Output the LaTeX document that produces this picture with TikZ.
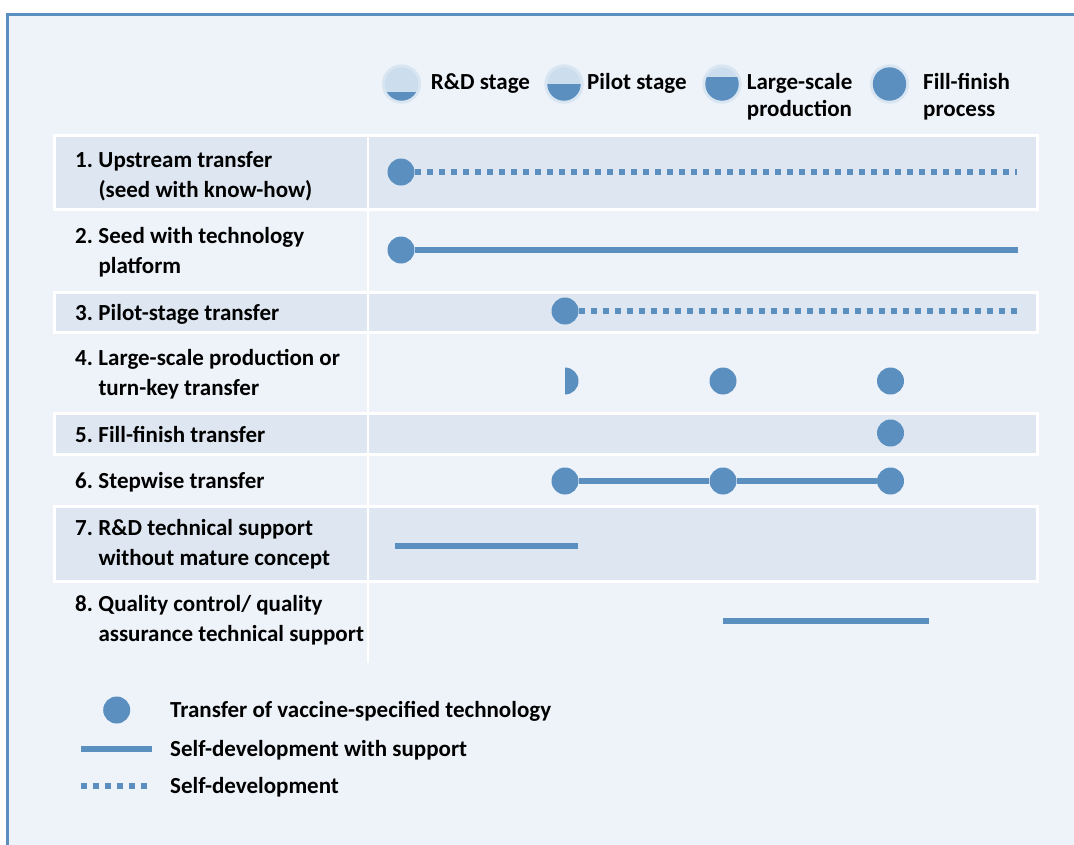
\documentclass[tikz,border=0pt]{standalone}
\usepackage{fontspec}
\setmainfont{Carlito}
\definecolor{tblue}{HTML}{5A8FC0}
\definecolor{pagebg}{HTML}{EEF3FA}
\definecolor{rowfill}{HTML}{DEE7F1}
\definecolor{ringc}{HTML}{D9E6F2}
\definecolor{innerc}{HTML}{CCDEEE}
\newcommand\rowtwo[3]{\vtop{\hbox{\makebox[23.3pt][l]{#1}#2}\hbox{\hspace{23.3pt}#3}}}
\newcommand\rowone[2]{\makebox[23.3pt][l]{#1}#2}
\newcommand\legtwo[2]{\vtop{\baselineskip=27pt\hbox{#1}\hbox{#2}}}
\newcommand\stageicon[2]{%
  \fill[ringc] (#1,84) circle (19.7);
  \fill[innerc] (#1,84) circle (16.7);
  \begin{scope}\clip (#1,84) circle (16.7);
    \fill[tblue] (#1-20,#2) rectangle (#1+20,110);
  \end{scope}}
\begin{document}
\begin{tikzpicture}[x=1pt,y=-1pt,
  lab/.style={anchor=base west, inner sep=0pt, font=\fontsize{23}{30}\selectfont\bfseries, text=black},
  dot/.style={circle, fill=tblue, minimum size=27pt, inner sep=0pt},
  support/.style={draw=tblue, line width=6pt},
  selfdev/.style={draw=tblue, line width=6pt, dash pattern=on 6pt off 6pt}]
\useasboundingbox (0,0) rectangle (1074,844);
\clip (0,0) rectangle (1074,844);
\fill[white] (0,0) rectangle (1074,844);
\fill[pagebg] (7.5,14.5) rectangle (1100,870);
\draw[tblue, line width=3pt] (1100,14.5) -- (7.5,14.5) -- (7.5,870);
% table rows
\foreach \a/\b in {137/208, 294/331, 415/453, 508/580}{
  \fill[white] (53,\a-3) rectangle (1039,\b+3);
  \fill[rowfill] (56,\a) rectangle (1036,\b);
}
\fill[white] (366.7,134) rectangle (369.3,663);
% stage legend
\stageicon{401.5}{92.3}
\stageicon{564}{84}
\stageicon{722}{77}
\stageicon{889.5}{60}
\node[lab] (lrd) at (430.7,89.3) {R\&D stage};
\node[lab] (lpi) at (587,89.3) {Pilot stage};
\node[lab] (lls) at (746.7,89.3) {\legtwo{Large-scale}{production}};
\node[lab] (lff) at (923,89.3) {\legtwo{Fill-finish}{process}};
% row labels
\node[lab] (r1) at (75,167) {\rowtwo{1.}{Upstream transfer}{(seed with know-how)}};
\node[lab] (r2) at (75,243) {\rowtwo{2.}{Seed with technology}{platform}};
\node[lab] (r3) at (75,320) {\rowone{3.}{Pilot-stage transfer}};
\node[lab] (r4) at (75,365.5) {\rowtwo{4.}{Large-scale production or}{turn-key transfer}};
\node[lab] (r5) at (75,442) {\rowone{5.}{Fill-finish transfer}};
\node[lab] (r6) at (75,488.5) {\rowone{6.}{Stepwise transfer}};
\node[lab] (r7) at (75,535) {\rowtwo{7.}{R\&D technical support}{without mature concept}};
\node[lab] (r8) at (75,611) {\rowtwo{8.}{Quality control/ quality}{assurance technical support}};
% row 1
\node[dot] (d1) at (401,172) {};
\coordinate (e1) at (1017,172);
\draw[selfdev] (d1) -- (e1);
% row 2
\node[dot] (d2) at (401,250) {};
\coordinate (e2) at (1018,250);
\draw[support] (d2) -- (e2);
% row 3
\node[dot] (d3) at (565,311) {};
\coordinate (e3) at (1017,311);
\draw[selfdev] (d3) -- (e3);
% row 4
\fill[tblue] (565,367.5) arc (-90:90:13.5) -- cycle;
\node[dot] (d4b) at (723,381) {};
\node[dot] (d4c) at (890.5,381) {};
% row 5
\node[dot] (d5) at (890.5,433) {};
% row 6
\node[dot] (d6a) at (565,481) {};
\node[dot] (d6b) at (723,481) {};
\node[dot] (d6c) at (890.5,481) {};
\draw[support] (d6a) -- (d6b) -- (d6c);
% row 7
\coordinate (s7) at (395,546);
\coordinate (e7) at (577.5,546);
\draw[support] (s7) -- (e7);
% row 8
\coordinate (s8) at (723,621);
\coordinate (e8) at (928.5,621);
\draw[support] (s8) -- (e8);
% bottom legend
\node[dot] (kd) at (116.7,710) {};
\coordinate (ks1) at (81,749); \coordinate (ke1) at (152,749);
\draw[support] (ks1) -- (ke1);
\coordinate (ks2) at (81,785.5); \coordinate (ke2) at (150,785.5);
\draw[selfdev] (ks2) -- (ke2);
\node[lab] (kt1) at (170,717) {Transfer of vaccine-specified technology};
\node[lab] (kt2) at (170,756) {Self-development with support};
\node[lab] (kt3) at (170,793) {Self-development};
\end{tikzpicture}
\end{document}
